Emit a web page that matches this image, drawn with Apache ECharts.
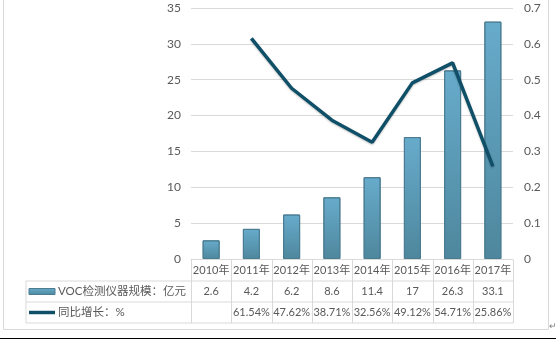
<!DOCTYPE html>
<html>
<head>
<meta charset="utf-8">
<script src="https://cdn.jsdelivr.net/npm/echarts@6/dist/echarts.min.js"></script>
<style>
  html, body { margin: 0; padding: 0; background: #fff; }
  #chart { width: 556px; height: 339px; }
</style>
</head>
<body>
<div id="chart"></div>
<script>
// Categories and series
const years = ['2010年', '2011年', '2012年', '2013年', '2014年', '2015年', '2016年', '2017年'];
const marketSize = [2.6, 4.2, 6.2, 8.6, 11.4, 17, 26.3, 33.1];          // 亿元
const growthPct = [null, 61.54, 47.62, 38.71, 32.56, 49.12, 54.71, 25.86]; // %
const barName = 'VOC检测仪器规模：亿元';
const lineName = '同比增长：%';

const growthRatio = growthPct.map(v => v == null ? null : v / 100);

const FONT = 'Lato, "Noto Sans CJK SC", sans-serif';
const TXT = '#595959';
const GRID_LINE = '#d9d9d9';

const chart = echarts.init(document.getElementById('chart'));

chart.setOption({
  animation: false,
  backgroundColor: '#fff',
  textStyle: { fontFamily: FONT },
  grid: { left: 191, right: 43, top: 8, bottom: 80 },
  xAxis: {
    type: 'category',
    data: years,
    axisLine: { show: true, lineStyle: { color: GRID_LINE } },
    axisTick: { show: false },
    axisLabel: { show: false }
  },
  yAxis: [
    {
      type: 'value', min: 0, max: 35, interval: 5,
      axisLine: { show: false }, axisTick: { show: false },
      axisLabel: { color: TXT, fontSize: 12, margin: 10, fontFamily: FONT },
      splitLine: { lineStyle: { color: GRID_LINE } }
    },
    {
      type: 'value', min: 0, max: 0.7, interval: 0.1,
      axisLine: { show: false }, axisTick: { show: false },
      axisLabel: { color: TXT, fontSize: 12, margin: 11, fontFamily: FONT,
        formatter: v => (Math.round(v * 10) / 10).toString() },
      splitLine: { show: false }
    }
  ],
  series: [
    {
      name: barName,
      type: 'bar',
      data: marketSize,
      barWidth: 17,
      itemStyle: {
        color: new echarts.graphic.LinearGradient(0, 0, 0, 1, [
          { offset: 0, color: '#67abcb' },
          { offset: 1, color: '#4e879d' }
        ]),
        borderColor: '#4a7c92',
        borderWidth: 1
      },
      z: 2
    },
    {
      name: lineName,
      type: 'line',
      yAxisIndex: 1,
      data: growthRatio,
      symbol: 'none',
      lineStyle: { color: '#0f5068', width: 3.5,
        shadowColor: 'rgba(0,0,0,0.25)', shadowBlur: 2, shadowOffsetY: 1 },
      z: 3
    }
  ]
});

// Data table under the plot, laid out from the category axis positions
function buildTable() {
  const els = [];
  const x0 = chart.convertToPixel({ xAxisIndex: 0 }, 0);
  const x1 = chart.convertToPixel({ xAxisIndex: 0 }, 1);
  const step = x1 - x0;
  const left = x0 - step / 2;
  const right = left + step * years.length;
  const labelLeft = 26;
  const rowTop = chart.convertToPixel({ yAxisIndex: 0 }, 0) + 1;
  const rowH = 21;
  const lineStyle = { stroke: GRID_LINE, lineWidth: 1 };
  const hl = (xa, xb, y) => els.push({ type: 'line', shape: { x1: xa, y1: y, x2: xb, y2: y }, style: lineStyle, silent: true });
  const vl = (x, ya, yb) => els.push({ type: 'line', shape: { x1: x, y1: ya, x2: x, y2: yb }, style: lineStyle, silent: true });

  // horizontal rules
  hl(labelLeft, right, rowTop + rowH);
  hl(labelLeft, right, rowTop + 2 * rowH);
  hl(labelLeft, right, rowTop + 3 * rowH);
  // vertical rules
  vl(labelLeft, rowTop + rowH, rowTop + 3 * rowH);
  for (let i = 0; i <= years.length; i++) {
    vl(Math.round(left + step * i) + 0.5, rowTop, rowTop + 3 * rowH);
  }

  const cellText = (x, y, t) => els.push({
    type: 'text', x: x, y: y, silent: true,
    style: { text: t, fill: TXT, font: '11px ' + FONT, align: 'center', verticalAlign: 'middle' }
  });
  years.forEach((yr, i) => {
    const cx = chart.convertToPixel({ xAxisIndex: 0 }, i);
    cellText(cx, rowTop + rowH * 0.5, yr);
    cellText(cx, rowTop + rowH * 1.5, String(marketSize[i]));
    cellText(cx, rowTop + rowH * 2.5, growthPct[i] == null ? '' : growthPct[i].toFixed(2) + '%');
  });

  // legend keys in the row headers
  els.push({
    type: 'rect', silent: true,
    shape: { x: 29, y: rowTop + rowH * 1.5 - 3, width: 26, height: 6 },
    style: {
      fill: new echarts.graphic.LinearGradient(0, 0, 0, 1, [
        { offset: 0, color: '#67abcb' }, { offset: 1, color: '#4e879d' }
      ]),
      stroke: '#4a7c92', lineWidth: 1
    }
  });
  els.push({
    type: 'line', silent: true,
    shape: { x1: 29, y1: rowTop + rowH * 2.5, x2: 55, y2: rowTop + rowH * 2.5 },
    style: { stroke: '#0f5068', lineWidth: 3.5 }
  });
  const rowLabel = (y, t) => els.push({
    type: 'text', x: 58, y: y, silent: true,
    style: { text: t, fill: TXT, font: '11.5px ' + FONT, align: 'left', verticalAlign: 'middle' }
  });
  rowLabel(rowTop + rowH * 1.5, barName);
  rowLabel(rowTop + rowH * 2.5, lineName);

  // outer frame
  els.push({ type: 'polyline', silent: true,
    shape: { points: [[3.5, 0], [3.5, 329.5], [548.5, 329.5], [548.5, 0]] },
    style: { stroke: '#d9d9d9', lineWidth: 1, fill: null } });
  els.push({ type: 'text', x: 549, y: 326, silent: true,
    style: { text: '↵', fill: '#7f7f7f', font: '9px ' + FONT, align: 'left', verticalAlign: 'middle' } });
  els.push({ type: 'rect', silent: true, shape: { x: 0, y: 338, width: 556, height: 1 }, style: { fill: '#000' } });

  chart.setOption({ graphic: els });
}
buildTable();
</script>
</body>
</html>
